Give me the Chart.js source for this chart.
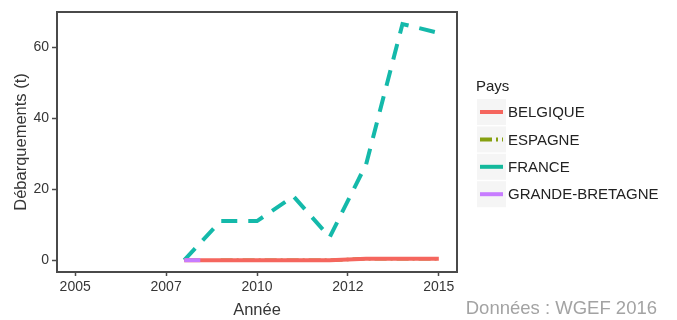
<!DOCTYPE html>
<html lang="fr">
<head>
<meta charset="utf-8">
<title>Débarquements par pays</title>
<script src="https://cdn.jsdelivr.net/npm/chart.js@4.4.1/dist/chart.umd.min.js"></script>
<style>
  html, body { margin: 0; padding: 0; background: #ffffff; }
  #wrap { position: relative; width: 677px; height: 320px; }
  canvas { display: block; }
</style>
</head>
<body>
<div id="wrap"><canvas id="chart" width="677" height="320"></canvas></div>
<script>
// Landings (tonnes) by country and year
const years = [2008, 2009, 2010, 2011, 2012, 2013, 2014, 2015];
const belgique = [0, 0, 0, 0, 0, 0.4, 0.4, 0.4];
const espagne = [null, 0, 0, 0, 0, 0.4, 0.4, 0.4];
const france = [0, 11, 11, 18, 6.5, 27, 66.5, 64];
const grandeBretagne = [0, 0, null, null, null, null, null, null];

const countries = ['BELGIQUE', 'ESPAGNE', 'FRANCE', 'GRANDE-BRETAGNE'];

// Axis ticks
const xTickValues = [2005, 2007.5, 2010, 2012.5, 2015];
const xTickLabels = ['2005', '2007', '2010', '2012', '2015'];
const yTickValues = [0, 20, 40, 60];
const yTickLabels = ['0', '20', '40', '60'];

const toPoints = vals => years.map((yr, i) => ({ x: yr, y: vals[i] }));

const FONT = "'Liberation Sans', Arial, Helvetica, sans-serif";
const INK = '#363636';

const datasets = [
  { label: countries[0], data: toPoints(belgique), borderColor: '#F5665E', borderWidth: 4,
    borderDash: [], order: 1 },
  { label: countries[1], data: toPoints(espagne), borderColor: '#86a010', borderWidth: 3.5,
    borderDash: [12, 4, 2, 4], order: 3 },
  { label: countries[2], data: toPoints(france), borderColor: '#14b9aa', borderWidth: 4,
    borderDash: [16, 11], order: 2 },
  { label: countries[3], data: toPoints(grandeBretagne), borderColor: '#C77CFF', borderWidth: 4,
    borderDash: [16, 400], order: 0 }
];
datasets.forEach(d => {
  d.fill = false;
  d.pointRadius = 0;
  d.pointHoverRadius = 0;
  d.tension = 0;
  d.borderCapStyle = 'butt';
  d.borderJoinStyle = 'miter';
  d.spanGaps = false;
});

// Legend keys: colour and dash pattern
const legendColors = ['#F5665E', '#86a010', '#14b99c', '#C77CFF'];
const legendDash = [[], [12, 4, 2, 4], [], []];

const framePlugin = {
  id: 'panelFrame',
  afterDatasetsDraw(chart) {
    const { ctx, chartArea: a } = chart;
    ctx.save();
    ctx.strokeStyle = '#4a4a4a';
    ctx.lineWidth = 2;
    ctx.strokeRect(a.left, a.top, a.right - a.left, a.bottom - a.top);
    ctx.restore();
  }
};

const legendPlugin = {
  id: 'sideLegend',
  afterDraw(chart) {
    const { ctx } = chart;
    ctx.save();
    ctx.textBaseline = 'middle';
    ctx.textAlign = 'left';
    ctx.fillStyle = '#222';
    ctx.font = '15px ' + FONT;
    ctx.fillText('Pays', 476, 87);
    chart.data.datasets.forEach((ds, i) => {
      const y = 112 + i * 27.4;
      ctx.fillStyle = '#f5f5f5';
      ctx.fillRect(477, y - 13, 29, 26);
      ctx.strokeStyle = legendColors[i];
      ctx.lineWidth = 4;
      ctx.lineCap = 'butt';
      ctx.setLineDash(legendDash[i]);
      ctx.beginPath();
      ctx.moveTo(480, y);
      ctx.lineTo(503, y);
      ctx.stroke();
      ctx.setLineDash([]);
      ctx.fillStyle = '#222';
      ctx.fillText(ds.label, 508, y + 1);
    });
    ctx.fillStyle = '#a3a3a3';
    ctx.font = '18.5px ' + FONT;
    ctx.textAlign = 'right';
    ctx.fillText('Données : WGEF 2016', 657, 309);
    ctx.restore();
  }
};

new Chart(document.getElementById('chart'), {
  type: 'line',
  data: { datasets },
  options: {
    responsive: false,
    animation: false,
    events: [],
    layout: { padding: { top: 12, right: 220, left: 0, bottom: 0 } },
    plugins: { legend: { display: false }, tooltip: { enabled: false } },
    scales: {
      x: {
        type: 'linear',
        min: 2004.5,
        max: 2015.5,
        afterBuildTicks: s => { s.ticks = xTickValues.map(v => ({ value: v })); },
        afterFit: s => { s.height = 48; },
        grid: { display: true, drawOnChartArea: false, drawTicks: true, tickLength: 4,
                tickColor: '#4a4a4a', tickWidth: 1.5 },
        border: { display: false },
        ticks: {
          autoSkip: false, maxRotation: 0, padding: 3,
          color: INK, font: { family: FONT, size: 14 },
          callback: (v, i) => xTickLabels[i]
        },
        title: { display: true, text: 'Année', color: INK,
                 font: { family: FONT, size: 16.5 }, padding: { top: 1, bottom: 0 } }
      },
      y: {
        type: 'linear',
        min: -3.33,
        max: 69.9,
        afterBuildTicks: s => { s.ticks = yTickValues.map(v => ({ value: v })); },
        afterFit: s => { s.width = 57; },
        grid: { display: true, drawOnChartArea: false, drawTicks: true, tickLength: 5,
                tickColor: '#4a4a4a', tickWidth: 1.5 },
        border: { display: false },
        ticks: {
          autoSkip: false, padding: 3,
          color: INK, font: { family: FONT, size: 14 },
          callback: (v, i) => yTickLabels[i]
        },
        title: { display: true, text: 'Débarquements (t)', color: INK,
                 font: { family: FONT, size: 16.5 }, padding: { top: 12, bottom: 0 } }
      }
    }
  },
  plugins: [framePlugin, legendPlugin]
});
</script>
</body>
</html>
